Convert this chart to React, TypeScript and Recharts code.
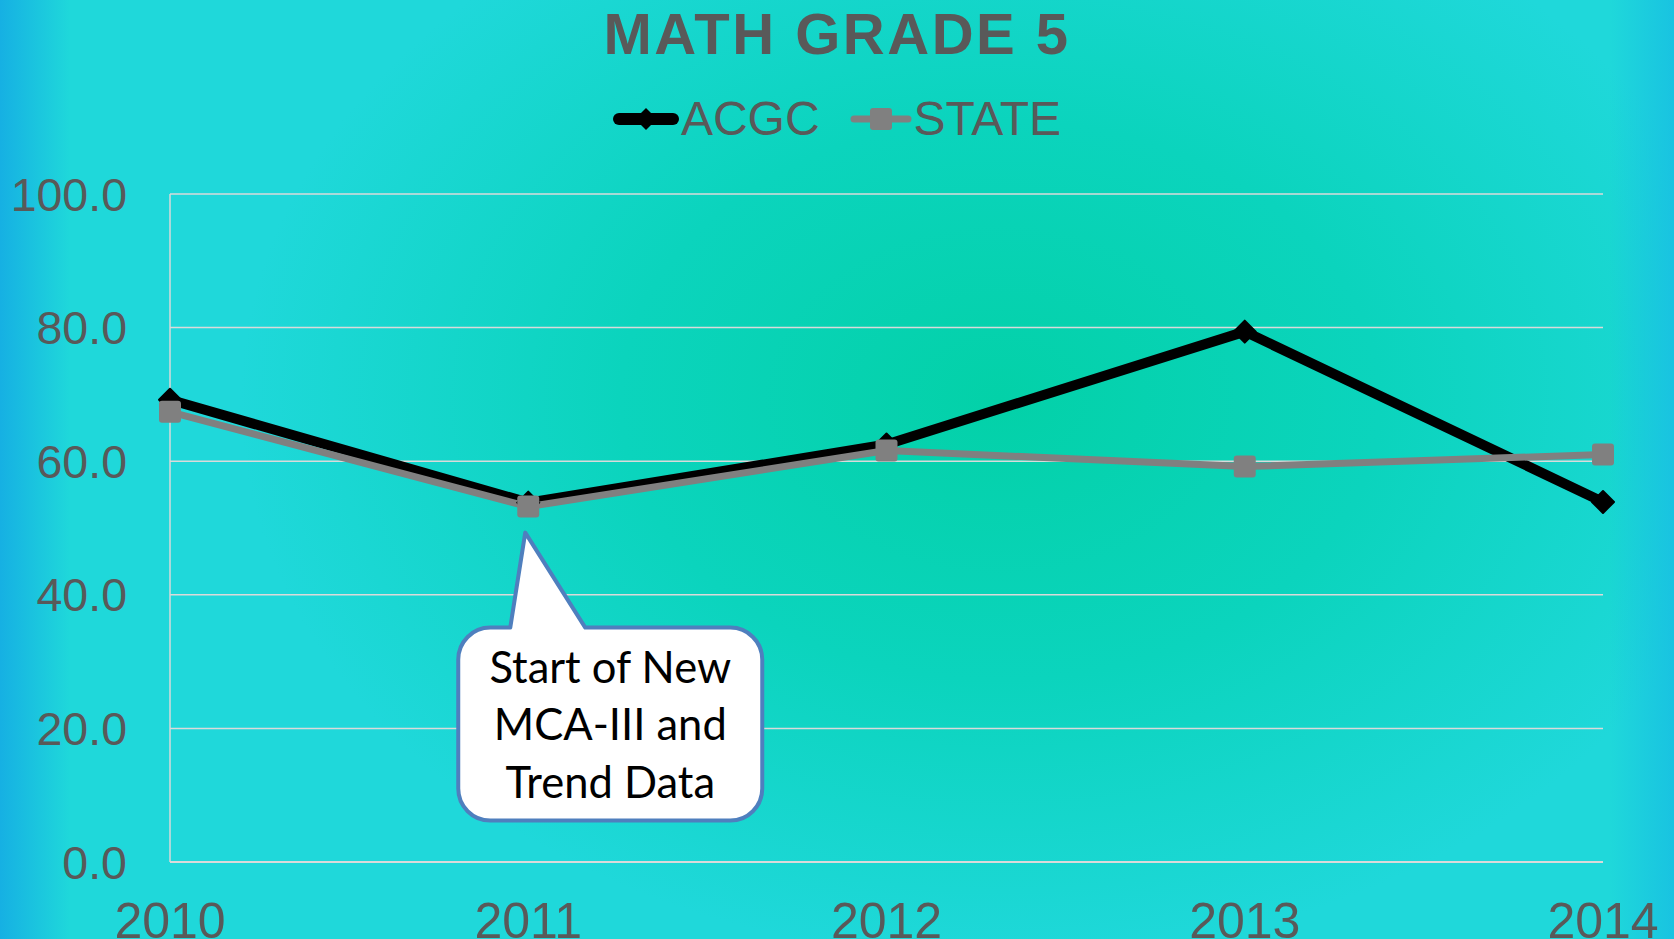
import React from "react";
import { LineChart, Line, XAxis, YAxis, CartesianGrid, Legend, ReferenceDot } from "recharts";

const years = ["2010", "2011", "2012", "2013", "2014"];
const acgc = [69.2, 53.8, 62.5, 79.4, 53.9];
const state = [67.4, 53.2, 61.6, 59.2, 61.0];
const yTicks = [0, 20, 40, 60, 80, 100];
const calloutLines = ["Start of New", "MCA-III and", "Trend Data"];

const data = years.map((y, i) => ({ year: y, ACGC: acgc[i], STATE: state[i] }));

const W = 1674;
const H = 939;
const txt = "#595959";
const sans = "'Liberation Sans', Arial, sans-serif";

const Diamond = (p: any) => {
  const { cx, cy } = p;
  if (cx == null || cy == null) return null;
  const s = 11;
  return <path d={`M${cx},${cy - s}L${cx + s},${cy}L${cx},${cy + s}L${cx - s},${cy}Z`} fill="#000" stroke="#000" strokeWidth={2} strokeLinejoin="round" />;
};

const Square = (p: any) => {
  const { cx, cy } = p;
  if (cx == null || cy == null) return null;
  return <rect x={cx - 11} y={cy - 11} width={22} height={22} rx={3} fill="#808080" />;
};

// speech bubble pointing at the 2011 point
const Callout = (p: any) => {
  const { cx, cy } = p;
  if (cx == null || cy == null) return null;
  const x0 = cx - 70, x1 = cx + 234, y0 = cy + 121, y1 = cy + 314, r = 32;
  const d = [
    `M${x0 + r},${y0}`,
    `L${cx - 18},${y0}`,
    `L${cx - 3},${cy + 26}`,
    `L${cx + 57},${y0}`,
    `L${x1 - r},${y0}`,
    `A${r},${r} 0 0 1 ${x1},${y0 + r}`,
    `L${x1},${y1 - r}`,
    `A${r},${r} 0 0 1 ${x1 - r},${y1}`,
    `L${x0 + r},${y1}`,
    `A${r},${r} 0 0 1 ${x0},${y1 - r}`,
    `L${x0},${y0 + r}`,
    `A${r},${r} 0 0 1 ${x0 + r},${y0}`,
    "Z",
  ].join(" ");
  return (
    <g>
      <path d={d} fill="#fff" stroke="#4F7FBE" strokeWidth={4} strokeLinejoin="round" />
      {calloutLines.map((t, i) => (
        <text key={t} x={cx + 82} y={cy + 176 + i * 57.5} textAnchor="middle" fontFamily="Lato, 'Open Sans', sans-serif" fontSize={43.5} fill="#000">
          {t}
        </text>
      ))}
    </g>
  );
};

const LegendBox = (props: any) => {
  const items = props.payload || [];
  return (
    <div style={{ display: "flex", justifyContent: "center", height: 60, lineHeight: "60px", fontFamily: sans, fontSize: 48, color: txt }}>
      {items.map((it: any) => (
        <div key={it.value} style={{ display: "flex", alignItems: "center", marginRight: it.value === "ACGC" ? 30 : 0 }}>
          {it.value === "ACGC" ? (
            <svg width={66} height={30} style={{ marginRight: 2 }}>
              <line x1={6} y1={15} x2={60} y2={15} stroke="#000" strokeWidth={12} strokeLinecap="round" />
              <path d="M33,4L44,15L33,26L22,15Z" fill="#000" />
            </svg>
          ) : (
            <svg width={62} height={30} style={{ marginRight: 2 }}>
              <line x1={4} y1={15} x2={58} y2={15} stroke="#808080" strokeWidth={7} strokeLinecap="round" />
              <rect x={20} y={4} width={22} height={22} rx={3} fill="#808080" />
            </svg>
          )}
          <span>{it.value}</span>
        </div>
      ))}
    </div>
  );
};

export default function App() {
  return (
    <div
      style={{
        position: "absolute",
        left: 0,
        top: 0,
        width: W,
        height: H,
        overflow: "hidden",
        background:
          "linear-gradient(to right, #16b0e3 0px, rgba(31,215,218,0) 70px, rgba(31,215,218,0) 1610px, #19c3e1 1674px), radial-gradient(ellipse 760px 560px at 1000px 400px, #03d1a8 0%, #0bd4bd 50%, #1fd8da 100%)",
      }}
    >
      <div
        style={{
          position: "absolute",
          top: 1,
          left: 0,
          width: W,
          textAlign: "center",
          fontFamily: sans,
          fontWeight: "bold",
          fontSize: 58,
          lineHeight: "66px",
          letterSpacing: 2.5,
          color: txt,
        }}
      >
        MATH GRADE 5
      </div>
      <LineChart width={W} height={H} data={data} margin={{ top: 134, right: 71, bottom: 17, left: 20 }}>
        <CartesianGrid vertical={false} stroke="#DADADA" strokeWidth={1.5} />
        <XAxis
          dataKey="year"
          interval={0}
          axisLine={{ stroke: "#DADADA", strokeWidth: 2 }}
          tickLine={false}
          tickSize={0}
          tickMargin={40}
          height={60}
          tick={{ fill: txt, fontSize: 50, fontFamily: sans }}
        />
        <YAxis
          domain={[0, 100]}
          ticks={yTicks}
          interval={0}
          width={150}
          axisLine={{ stroke: "#DADADA", strokeWidth: 1.5 }}
          tickLine={false}
          tickSize={0}
          tickMargin={43}
          tickFormatter={(v: number) => v.toFixed(1)}
          tick={{ fill: txt, fontSize: 46.5, fontFamily: sans }}
        />
        <Legend verticalAlign="top" content={<LegendBox />} wrapperStyle={{ top: 89, left: 0, width: W, height: 60 }} />
        <Line
          dataKey="ACGC"
          name="ACGC"
          stroke="#000"
          strokeWidth={10}
          strokeLinejoin="round"
          dot={<Diamond />}
          activeDot={false}
          isAnimationActive={false}
        />
        <Line
          dataKey="STATE"
          name="STATE"
          stroke="#808080"
          strokeWidth={7}
          strokeLinejoin="round"
          dot={<Square />}
          activeDot={false}
          isAnimationActive={false}
        />
        <ReferenceDot x="2011" y={state[1]} r={0} shape={<Callout />} ifOverflow="visible" />
      </LineChart>
    </div>
  );
}
